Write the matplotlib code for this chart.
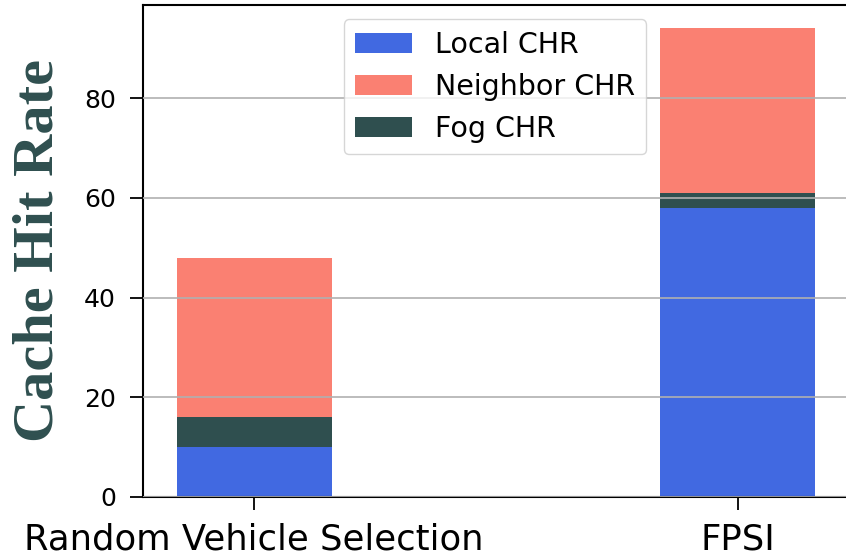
import matplotlib.pyplot as plt
import numpy as np

# data
methods = ["Random Vehicle Selection", "FPSI"]
local_chr = [10, 58]
fog_chr = [6, 3]
neighbor_chr = [32, 33]

fig = plt.figure(figsize=(8.46, 5.59), dpi=100)
ax = fig.add_axes([143 / 846, 62 / 559, 704 / 846, 492 / 559])

x = np.arange(len(methods))
width = 0.32
local = np.array(local_chr)
fog = np.array(fog_chr)
neigh = np.array(neighbor_chr)

ax.bar(x, local, width, color="royalblue", label="Local CHR")
ax.bar(x, neigh, width, bottom=local + fog, color="salmon", label="Neighbor CHR")
ax.bar(x, fog, width, bottom=local, color="darkslategray", label="Fog CHR")

ax.set_xticks(x)
ax.set_xticklabels(methods)
ax.set_xlim(-0.23, 1.226)
ax.tick_params(axis="both", length=9.5, width=1.3)
ax.tick_params(axis="y", labelsize=18, pad=10)
ax.tick_params(axis="x", labelsize=25.5, pad=9)
ax.yaxis.grid(True, color="#b0b0b0", linewidth=1.2)
ax.set_axisbelow(False)
for s in ax.spines.values():
    s.set_linewidth(1.5)

ax.set_ylabel("Cache Hit Rate", family="Liberation Serif", fontweight="bold",
              fontsize=42, color="darkslategray", labelpad=14)
ax.legend(loc="upper center", fontsize=20.5)

fig.savefig("out.png", dpi=100)
